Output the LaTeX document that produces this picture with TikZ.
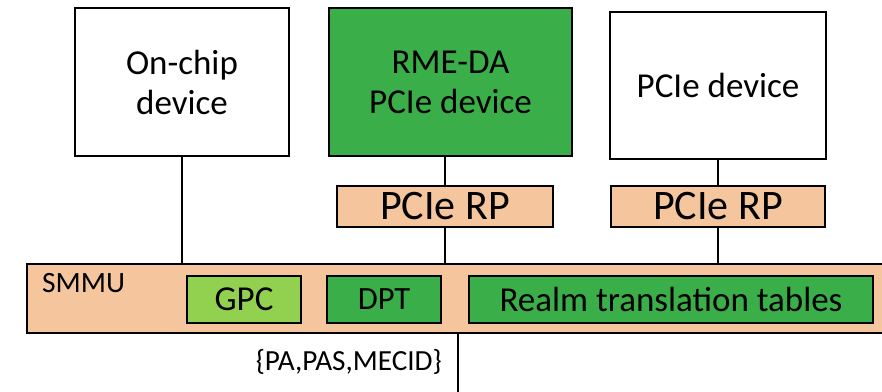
\documentclass[tikz,border=0pt]{standalone}
\usepackage{fontspec}
\setmainfont{Carlito}
\definecolor{peach}{RGB}{245,197,157}
\definecolor{darkgreen}{RGB}{58,174,72}
\definecolor{lightgreen}{RGB}{146,208,80}
\tikzset{
  box/.style={draw=black, line width=2pt, inner sep=0pt, align=center},
  devbox/.style={box, fill=white, font=\fontsize{35}{40}\selectfont},
  rpbox/.style={box, fill=peach, minimum height=41pt, font=\fontsize{42}{42}\selectfont},
  unitbox/.style={box, minimum height=47pt},
  wire/.style={draw=black, line width=2pt}
}
\begin{document}
\begin{tikzpicture}[x=1pt,y=-1pt]
\useasboundingbox (0,0) rectangle (882,391);
\clip (0,0) rectangle (882,391);

% devices
\node[devbox, minimum width=214pt, minimum height=148pt] (onchip) at (182,82) {On-chip\\device};
\node[devbox, fill=darkgreen, minimum width=243pt, minimum height=148pt] (rme) at (450.5,82) {RME-DA\\PCIe device};
\node[devbox, minimum width=216pt, minimum height=147pt] (pcied) at (718,85.5) {PCIe device};

% root ports
\node[rpbox, minimum width=216pt] (rp1) at (445,206.5) {PCIe RP};
\node[rpbox, minimum width=214pt] (rp2) at (718,206.5) {PCIe RP};

% SMMU bar
\node[box, fill=peach, minimum width=880pt, minimum height=69pt] (smmu) at (467,298.5) {};
\node[anchor=base west, inner sep=0pt, font=\fontsize{29.5}{30}\selectfont] (smmulbl) at (42,292) {SMMU};

\node[unitbox, fill=lightgreen, minimum width=114pt, font=\fontsize{35}{36}\selectfont] (gpc) at (244,299.5) {GPC};
\node[unitbox, fill=darkgreen, minimum width=114pt, font=\fontsize{32.5}{36}\selectfont] (dpt) at (384,299.5) {DPT};
\node[unitbox, fill=darkgreen, minimum width=404pt, font=\fontsize{35}{36}\selectfont] (rtt) at (671,299.5) {Realm translation tables};

% output
\coordinate (out) at (458,392);
\node[anchor=base east, inner sep=0pt, font=\fontsize{29.2}{30}\selectfont] (attr) at (442,370) {\{PA,PAS,MECID\}};

% connectors
\draw[wire] (onchip.south) -- (onchip.south |- smmu.north);
\draw[wire] (rp1.north) -- (rp1.north |- rme.south);
\draw[wire] (rp1.south) -- (rp1.south |- smmu.north);
\draw[wire] (pcied.south) -- (rp2.north);
\draw[wire] (rp2.south) -- (rp2.south |- smmu.north);
\draw[wire] (smmu.south -| out) -- (out);
\end{tikzpicture}
\end{document}
